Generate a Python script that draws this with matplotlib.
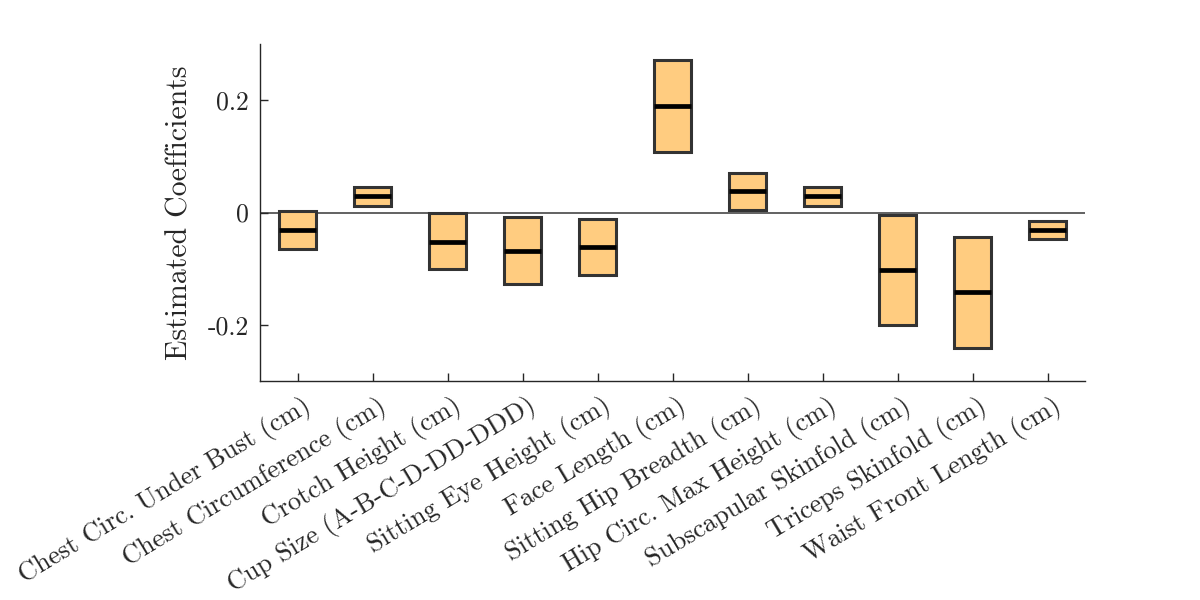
import matplotlib
matplotlib.use("Agg")
import matplotlib.pyplot as plt
import matplotlib.transforms as mtransforms
import numpy as np

categories = [
    "Chest Circ. Under Bust (cm)",
    "Chest Circumference (cm)",
    "Crotch Height (cm)",
    "Cup Size (A-B-C-D-DD-DDD)",
    "Sitting Eye Height (cm)",
    "Face Length (cm)",
    "Sitting Hip Breadth (cm)",
    "Hip Circ. Max Height (cm)",
    "Subscapular Skinfold (cm)",
    "Triceps Skinfold (cm)",
    "Waist Front Length (cm)",
]
lower = [-0.065, 0.012, -0.100, -0.127, -0.111, 0.107, 0.005, 0.012, -0.201, -0.242, -0.048]
upper = [0.002, 0.046, 0.000, -0.008, -0.012, 0.272, 0.071, 0.046, -0.004, -0.043, -0.015]
median = [-0.032, 0.029, -0.052, -0.068, -0.062, 0.190, 0.039, 0.029, -0.102, -0.142, -0.032]
ytick_values = [-0.2, 0.0, 0.2]
ytick_labels = ["-0.2", "0", "0.2"]
ylabel = "Estimated Coefficients"

text_color = "#262626"
font = "cmr10"
fs_y = 18.5
fs_x = 19.0
fs_label = 21.5

fig = plt.figure(figsize=(12, 6), dpi=100)
ax = fig.add_axes([260 / 1200, 1 - 381 / 600, (1085 - 260) / 1200, (381 - 44) / 600])

x = np.arange(1, len(categories) + 1)
lo = np.array(lower)
hi = np.array(upper)
width = 0.5

ax.axhline(0, color="#555555", lw=1.3, zorder=1)
ax.bar(x, hi - lo, bottom=lo, width=width, color="#FFCC80",
       edgecolor="#333333", linewidth=2.2, zorder=2)
ax.hlines(median, x - width / 2, x + width / 2, colors="black", lw=3.4, zorder=3)

ax.set_xlim(0.5, 11.5)
ax.set_ylim(-0.3, 0.3)

ax.spines["top"].set_visible(False)
ax.spines["right"].set_visible(False)
for s in ("left", "bottom"):
    ax.spines[s].set_color(text_color)
    ax.spines[s].set_linewidth(1.0)

ax.tick_params(axis="both", direction="in", length=6, width=1.0, color=text_color,
               labelcolor=text_color)
ax.tick_params(axis="y", pad=8)
ax.tick_params(axis="x", pad=0)

ax.set_yticks(ytick_values)
ax.set_yticklabels(ytick_labels, fontfamily=font, fontsize=fs_y)
ax.set_xticks(x)
ax.set_xticklabels(categories, fontfamily=font, fontsize=fs_x, rotation=31,
                   ha="right", va="baseline", rotation_mode="anchor")
offset = mtransforms.ScaledTranslation(15 / 100, -29 / 100, fig.dpi_scale_trans)
for lab in ax.get_xticklabels():
    lab.set_transform(lab.get_transform() + offset)

ax.set_ylabel(ylabel, fontfamily=font, fontsize=fs_label, color=text_color, labelpad=10)

fig.savefig("out.png", dpi=100)
